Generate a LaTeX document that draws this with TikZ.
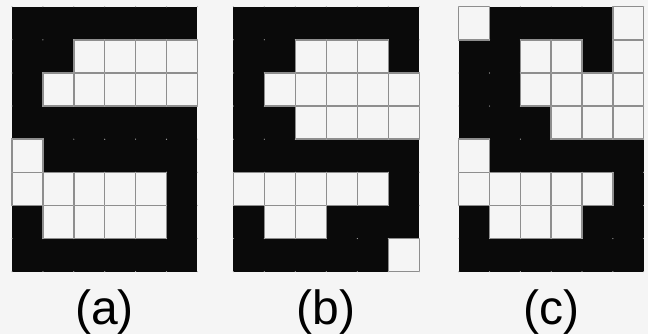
\documentclass[tikz,border=0pt]{standalone}
\usepackage{fontspec}
\setmainfont{Liberation Sans}
\definecolor{bg}{HTML}{F5F5F5}
\definecolor{cellblack}{HTML}{0A0A0A}
\definecolor{gline}{HTML}{8E8E8E}
\tikzset{
  whitecell/.style={fill=bg, draw=gline, line width=1.5pt},
  blackcell/.style={fill=cellblack},
  dotmark/.style={fill=gline!70},
  caption/.style={anchor=base, inner sep=0pt, font=\fontsize{48}{58}\selectfont}
}
\newcommand\sgrid[3]{%
  \fill[blackcell] (#1,6.7) rectangle ++({6*#2},265);
  \foreach \rw [count=\r from 0] in {#3} {
    \foreach \v [count=\k from 0] in \rw {
      \ifnum\v=0
        \filldraw[whitecell] ({#1+\k*#2},{6.7+\r*33.125}) rectangle ++(#2,33.125);
      \fi
    }
  }
  \foreach \r in {0,...,8} {
    \foreach \k in {0,...,6} {
      \fill[dotmark] ({#1+\k*#2},{6.7+\r*33.125}) circle (0.6pt);
    }
  }
}
\begin{document}
\begin{tikzpicture}[x=1pt,y=-1pt]
\useasboundingbox (0,0) rectangle (648,334);
\fill[bg] (0,0) rectangle (648,334);
\sgrid{12}{30.9}{{1,1,1,1,1,1},{1,1,0,0,0,0},{1,0,0,0,0,0},{1,1,1,1,1,1},{0,1,1,1,1,1},{0,0,0,0,0,1},{1,0,0,0,0,1},{1,1,1,1,1,1}}
\sgrid{233.3}{31}{{1,1,1,1,1,1},{1,1,0,0,0,1},{1,0,0,0,0,0},{1,1,0,0,0,0},{1,1,1,1,1,1},{0,0,0,0,0,1},{1,0,0,1,1,1},{1,1,1,1,1,0}}
\sgrid{458.7}{30.83}{{0,1,1,1,1,0},{1,1,0,0,1,0},{1,1,0,0,0,0},{1,1,1,0,0,0},{0,1,1,1,1,1},{0,0,0,0,0,1},{1,0,0,0,1,1},{1,1,1,1,1,1}}
\node[caption] (la) at (104.5,324) {(a)};
\node[caption] (lb) at (326,324) {(b)};
\node[caption] (lc) at (551,324) {(c)};
\end{tikzpicture}
\end{document}
